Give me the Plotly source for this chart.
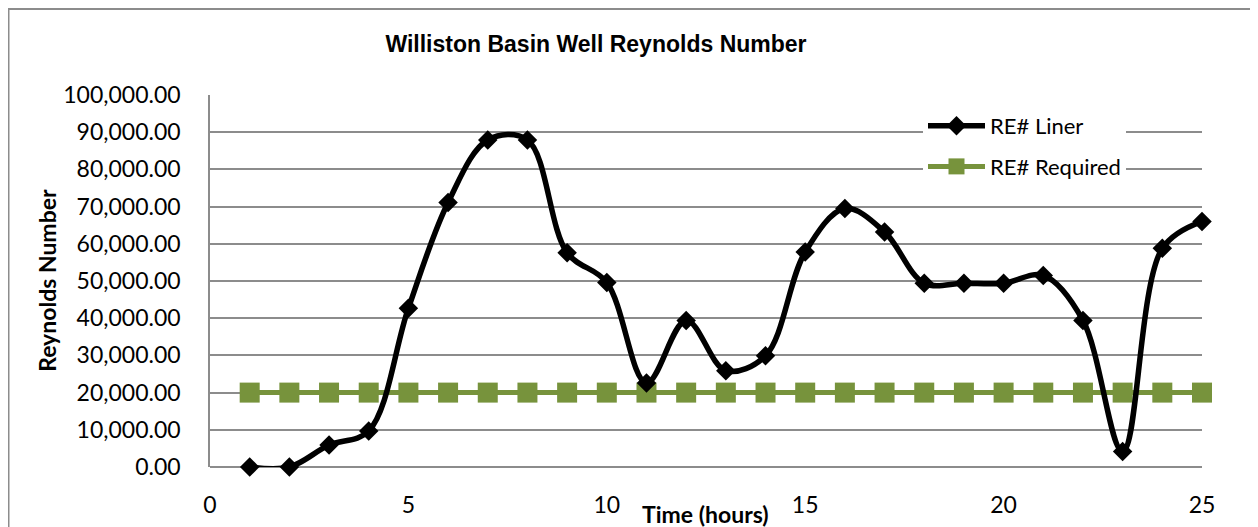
import plotly.graph_objects as go

hours = list(range(1, 26))
re_liner = [0, 0, 5900, 9700, 42700, 71100, 87900, 87900, 57600, 49600,
            22600, 39400, 25900, 29900, 57800, 69500, 63200, 49400, 49400, 49400,
            51500, 39400, 4200, 58800, 66000]
re_required = [20000] * 25

# page body has an 8px margin; figure occupies screen pixels 8..1258
OFF = 8
W, H = 1258 - OFF, 527 - OFF
L, T = 210 - OFF, 95 - OFF
R = W - (1202 - OFF)
B = H - (467.3 - OFF)
pw, ph = W - L - R, H - T - B

def px(x):  # screen pixel -> paper x
    return (x - OFF - L) / pw

def py(y):  # screen pixel -> paper y
    return (H - B - (y - OFF)) / ph

fig = go.Figure()
fig.add_trace(go.Scatter(
    x=hours, y=re_required, name="RE# Required", mode="lines+markers",
    line=dict(color="#77933C", width=5),
    marker=dict(symbol="square", size=20, color="#77933C"),
    legendrank=2, legendgroup="b", cliponaxis=False,
))
fig.add_trace(go.Scatter(
    x=hours, y=re_liner, name="RE# Liner", mode="lines+markers",
    line=dict(color="black", width=5.5, shape="spline", smoothing=1.0),
    marker=dict(symbol="diamond", size=15, color="black"),
    legendrank=1, legendgroup="a", cliponaxis=False,
))

fig.update_layout(
    width=W, height=H, autosize=False,
    margin=dict(l=L, r=R, t=T, b=B, autoexpand=False),
    plot_bgcolor="white", paper_bgcolor="white",
    title=dict(text="<b>Williston Basin Well Reynolds Number</b>",
               font=dict(family="Liberation Sans", size=23, color="black"),
               x=(596 - OFF) / W, xanchor="center",
               y=1 - (44 - OFF) / H, yanchor="middle"),
    font=dict(family="Lato", color="black"),
    xaxis=dict(range=[0, 25], dtick=5, tick0=0, showgrid=False,
               showline=False, zeroline=False, automargin=False,
               tickfont=dict(family="Lato", size=23, color="black"),
               ticks="outside", ticklen=17, tickcolor="rgba(0,0,0,0)"),
    yaxis=dict(range=[0, 100000], dtick=10000, tickformat=",.2f",
               showgrid=True, gridcolor="#8c8c8c", gridwidth=1.5,
               showline=True, linecolor="#8c8c8c", linewidth=1.5,
               zeroline=True, zerolinecolor="#8c8c8c", zerolinewidth=1.5,
               automargin=False,
               tickfont=dict(family="Lato", size=23, color="black"),
               ticks="outside", ticklen=23, tickcolor="rgba(0,0,0,0)"),
    legend=dict(x=px(923), y=py(105), xanchor="left", yanchor="top",
                bgcolor="white", borderwidth=0,
                font=dict(family="Lato", size=22, color="black"),
                itemwidth=57, tracegroupgap=9, traceorder="grouped"),
)

# axis titles as annotations (Excel places them overlapping tick area)
fig.add_annotation(text="<b>Time (hours)</b>", xref="paper", yref="paper",
                   x=px(705), y=py(514), xanchor="center", yanchor="middle",
                   showarrow=False, font=dict(family="Lato", size=23, color="black"))
fig.add_annotation(text="<b>Reynolds Number</b>", xref="paper", yref="paper",
                   x=px(47), y=py(281), xanchor="center", yanchor="middle",
                   textangle=-90, showarrow=False,
                   font=dict(family="Lato", size=23, color="black"))

# chart-area border (top and left edges visible)
fig.add_shape(type="line", xref="paper", yref="paper",
              x0=px(7), x1=px(1270), y0=py(9), y1=py(9),
              line=dict(color="#8c8c8c", width=2))
fig.add_shape(type="line", xref="paper", yref="paper",
              x0=px(8.5), x1=px(8.5), y0=py(9), y1=py(540),
              line=dict(color="#8c8c8c", width=2))

fig.write_html("out.html")
